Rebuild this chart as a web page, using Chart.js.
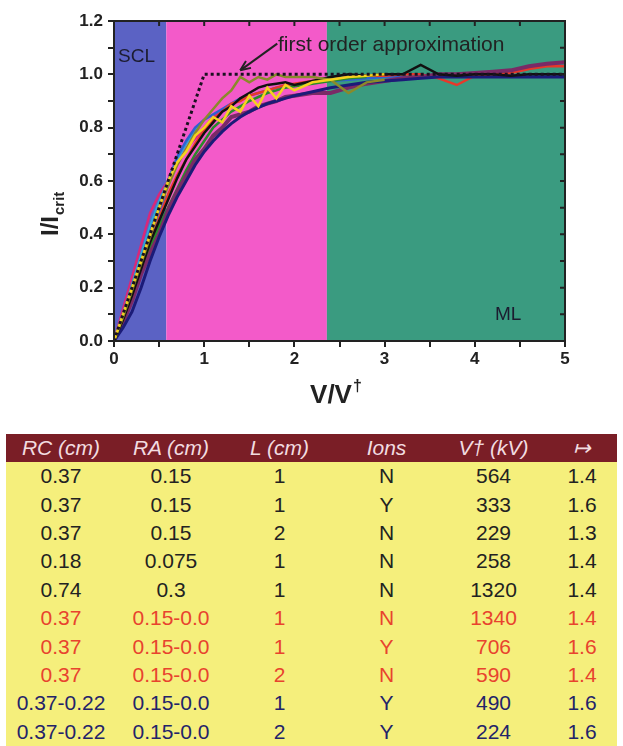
<!DOCTYPE html>
<html>
<head>
<meta charset="utf-8">
<script src="https://cdn.jsdelivr.net/npm/chart.js@4.4.0/dist/chart.umd.min.js"></script>
<style>
  body { margin: 0; background: #fff; font-family: "Liberation Sans", Arial, sans-serif; }
  #wrap { position: relative; width: 623px; height: 746px; overflow: hidden; }
  #c { position: absolute; left: 0; top: 0; }
  #tbl { position: absolute; left: 6px; top: 434px; width: 611px; border-collapse: collapse; table-layout: fixed; }
  #tbl th { background: #7a1e26; color: #f2dce0; font-style: italic; font-weight: normal; font-size: 21px; height: 28px; padding: 0; text-align: center; }
  #tbl td { background: #f5ef7c; font-size: 21px; height: 28.4px; padding: 0; text-align: center; line-height: 28px; }
</style>
</head>
<body>
<div id="wrap">
  <canvas id="c" width="623" height="425"></canvas>
  <table id="tbl"><thead><tr id="hdr"></tr></thead><tbody id="rows"></tbody></table>
</div>
<script>
// V/V† sample points shared by the curves
var xs = [0,0.1,0.2,0.3,0.4,0.5,0.6,0.7,0.8,0.9,1.0,1.1,1.2,1.3,1.4,1.5,1.6,1.7,1.8,1.9,2.0,
          2.2,2.4,2.6,2.8,3.0,3.2,3.4,3.6,3.8,4.0,4.2,4.4,4.6,4.8,5.0];

var navy   = [0,0.05,0.11,0.2,0.3,0.39,0.47,0.54,0.6,0.66,0.71,0.75,0.785,0.815,0.84,0.86,0.875,0.89,0.9,0.91,0.92,
              0.935,0.95,0.96,0.97,0.975,0.98,0.985,0.99,0.99,0.99,0.99,0.99,0.99,0.99,0.99];
var purple = [0,0.07,0.15,0.25,0.33,0.4,0.49,0.56,0.62,0.68,0.72,0.77,0.8,0.84,0.85,0.86,0.88,0.89,0.9,0.915,0.92,
              0.93,0.93,0.95,0.965,0.975,0.985,0.99,1.0,1.0,1.005,1.01,1.015,1.03,1.04,1.045];
var black  = [0,0.08,0.17,0.27,0.37,0.45,0.53,0.61,0.68,0.73,0.78,0.82,0.86,0.88,0.91,0.93,0.95,0.96,0.965,0.97,0.96,
              0.975,0.99,1.0,0.995,1.0,1.0,1.035,1.0,0.995,1.0,1.0,0.995,1.0,1.0,1.0];
var yellow = [0,0.1,0.2,0.3,0.4,0.5,0.6,0.67,0.71,0.77,0.8,0.84,0.82,0.88,0.86,0.92,0.88,0.95,0.91,0.96,0.94,
              0.97,0.98,0.99,0.995,1.0,null,null,null,null,null,null,null,null,null,null];
var olive  = [0,0.09,0.19,0.29,0.39,0.5,0.58,0.66,0.72,0.78,0.83,0.87,0.91,0.94,0.99,0.97,0.99,0.98,1.0,0.99,0.99,
              0.99,0.98,0.93,0.97,0.98,null,null,null,null,null,null,null,null,null,null];
var green  = [0,0.08,0.17,0.26,0.35,0.43,0.5,0.57,0.64,0.7,0.75,0.8,0.83,0.86,0.88,0.9,0.915,0.93,0.94,0.95,0.955,
              0.965,0.975,0.985,0.99,null,null,null,null,null,null,null,null,null,null,null];
var red    = [0,0.09,0.19,0.28,0.37,0.46,0.55,0.62,0.68,0.74,0.79,0.83,0.86,0.89,0.9,0.92,0.93,0.94,0.95,0.96,0.965,
              0.975,0.98,0.99,0.995,0.995,1.0,1.0,0.985,0.96,0.995,1.0,1.005,1.02,1.03,1.03];
var blue   = [0,0.1,0.2,0.3,0.41,0.5,0.6,0.69,0.75,0.8,0.83,0.85,0.87,0.89,0.91,0.92,0.93,0.94,0.95,0.955,0.96,
              0.97,0.975,0.98,0.985,0.99,0.99,0.99,0.99,0.995,0.995,0.995,0.995,0.995,0.995,0.995];
var pink   = [0,0.12,0.24,0.36,0.48,0.55,0.6,0.66,0.72,0.76,0.8,0.84,0.86,null,null,null,null,null,null,null,null,
              null,null,null,null,null,null,null,null,null,null,null,null,null,null,null];
var cyan   = [0,0.1,0.21,0.32,0.43,0.52,0.6,0.68,0.74,0.79,0.83,null,null,null,null,null,null,null,null,null,null,
              null,null,null,null,null,null,null,null,null,null,null,null,null,null,null];

// first order approximation
var approxX = [0, 1, 5];
var approxY = [0, 1, 1];

// regimes
var regionEdges  = [0, 0.58, 2.36, 5];
var regionColors = ['#5b62c4', '#f35ac9', '#3a9b80'];

// table
var headers = ['RC (cm)', 'RA (cm)', 'L (cm)', 'Ions', 'V\u2020 (kV)', '\u21a6'];
var colRC   = ['0.37','0.37','0.37','0.18','0.74','0.37','0.37','0.37','0.37-0.22','0.37-0.22'];
var colRA   = ['0.15','0.15','0.15','0.075','0.3','0.15-0.0','0.15-0.0','0.15-0.0','0.15-0.0','0.15-0.0'];
var colL    = ['1','1','2','1','1','1','1','2','1','2'];
var colIons = ['N','Y','N','N','N','N','Y','N','Y','Y'];
var colV    = ['564','333','229','258','1320','1340','706','590','490','224'];
var colExp  = ['1.4','1.6','1.3','1.4','1.4','1.4','1.6','1.4','1.6','1.6'];
var rowColors = ['#222','#222','#222','#222','#222','#e8432e','#e8432e','#e8432e','#23236a','#23236a'];

function pts(ys) {
  var out = [];
  for (var i = 0; i < xs.length; i++) out.push({x: xs[i], y: ys[i]});
  return out;
}
function line(ys, color, w, ord) {
  return {data: pts(ys), borderColor: color, borderWidth: w, pointRadius: 0, tension: 0, spanGaps: false, order: ord};
}

var FONT = '"Liberation Sans", Arial, sans-serif';

var decor = {
  id: 'decor',
  beforeDraw: function(chart) {
    var ctx = chart.ctx, a = chart.chartArea, sx = chart.scales.x;
    for (var i = 0; i < regionColors.length; i++) {
      var x0 = sx.getPixelForValue(regionEdges[i]), x1 = sx.getPixelForValue(regionEdges[i + 1]);
      ctx.fillStyle = regionColors[i];
      ctx.fillRect(x0, a.top, x1 - x0, a.bottom - a.top);
    }
  },
  afterDatasetsDraw: function(chart) {
    var ctx = chart.ctx, sx = chart.scales.x, sy = chart.scales.y;
    ctx.save();
    ctx.fillStyle = '#1c1c30';
    ctx.font = '19px ' + FONT;
    ctx.textBaseline = 'middle';
    ctx.fillText('SCL', 118, 57);
    ctx.fillText('ML', 495, 315);
    ctx.fillStyle = '#222';
    ctx.font = '21px ' + FONT;
    ctx.fillText('first order approximation', 278, 45);
    // arrow
    var tx = sx.getPixelForValue(1.81), ty = sy.getPixelForValue(1.115);
    var hx = sx.getPixelForValue(1.40), hy = sy.getPixelForValue(1.015);
    ctx.strokeStyle = '#222'; ctx.lineWidth = 2;
    ctx.beginPath(); ctx.moveTo(tx, ty); ctx.lineTo(hx, hy); ctx.stroke();
    var ang = Math.atan2(hy - ty, hx - tx);
    ctx.beginPath();
    ctx.moveTo(hx, hy);
    ctx.lineTo(hx - 11 * Math.cos(ang - 0.4), hy - 11 * Math.sin(ang - 0.4));
    ctx.moveTo(hx, hy);
    ctx.lineTo(hx - 11 * Math.cos(ang + 0.4), hy - 11 * Math.sin(ang + 0.4));
    ctx.stroke();
    ctx.restore();
  },
  afterDraw: function(chart) {
    var ctx = chart.ctx, a = chart.chartArea, sx = chart.scales.x, sy = chart.scales.y;
    ctx.save();
    ctx.strokeStyle = '#222'; ctx.lineWidth = 2;
    ctx.strokeRect(a.left, a.top, a.right - a.left, a.bottom - a.top);
    // inward ticks on top and right
    ctx.beginPath();
    sx.ticks.forEach(function(t) {
      var p = sx.getPixelForValue(t.value);
      ctx.moveTo(p, a.top); ctx.lineTo(p, a.top + 5);
    });
    sy.ticks.forEach(function(t) {
      var p = sy.getPixelForValue(t.value);
      ctx.moveTo(a.right, p); ctx.lineTo(a.right - 5, p);
    });
    ctx.stroke();
    // axis titles
    ctx.fillStyle = '#222';
    ctx.textBaseline = 'alphabetic';
    ctx.font = 'bold 26px ' + FONT;
    var t = 'V/V', w = ctx.measureText(t).width;
    var cx = 335, by = 403;
    ctx.fillText(t, cx - w / 2 - 4, by);
    ctx.font = 'bold 16px ' + FONT;
    ctx.fillText('\u2020', cx + w / 2 - 3, by - 12);
    ctx.translate(58, 236);
    ctx.rotate(-Math.PI / 2);
    ctx.font = 'bold 24px ' + FONT;
    ctx.fillText('I/I', 0, 0);
    var w2 = ctx.measureText('I/I').width;
    ctx.font = 'bold 15px ' + FONT;
    ctx.fillText('crit', w2 + 1, 6);
    ctx.restore();
  }
};

var tickFont = {family: FONT, size: 17, weight: 'bold'};

new Chart(document.getElementById('c'), {
  type: 'line',
  data: {
    datasets: [
      {data: approxX.map(function(x, i) { return {x: x, y: approxY[i]}; }), borderColor: '#1a1020',
       borderWidth: 3, borderDash: [3, 3], pointRadius: 0, tension: 0, order: 0},
      line(pink, '#d8287a', 2.5, 10),
      line(cyan, '#2aa8d8', 2.5, 9),
      line(navy, '#1b1b78', 3, 3),
      line(purple, '#7a2a66', 4, 4),
      line(green, '#2a8a2a', 2.5, 5),
      line(red, '#e8382a', 2.5, 6),
      line(blue, '#3060d0', 2.5, 7),
      line(black, '#111111', 2.5, 2),
      line(olive, '#8a8a2a', 2.5, 1.5),
      line(yellow, '#f4d21e', 2.5, 1)
    ]
  },
  plugins: [decor],
  options: {
    responsive: false,
    animation: false,
    devicePixelRatio: 1,
    layout: {padding: {top: 21, right: 58, left: 0, bottom: 0}},
    plugins: {legend: {display: false}, tooltip: {enabled: false}},
    scales: {
      x: {
        type: 'linear', min: 0, max: 5,
        ticks: {stepSize: 0.5, autoSkip: false, maxRotation: 0, color: '#222', font: tickFont, padding: 2,
          callback: function(v) { return Number.isInteger(v) ? String(v) : ''; }},
        grid: {drawOnChartArea: false, drawTicks: true, tickLength: 6, color: '#222', lineWidth: 2},
        border: {display: true, color: '#222', width: 2},
        afterFit: function(s) { s.height = 84; }
      },
      y: {
        type: 'linear', min: 0, max: 1.2,
        ticks: {stepSize: 0.1, autoSkip: false, color: '#222', font: tickFont, padding: 5,
          callback: function(v) { return Math.round(v * 10) % 2 === 0 ? v.toFixed(1) : ''; }},
        grid: {drawOnChartArea: false, drawTicks: true, tickLength: 6, color: '#222', lineWidth: 2},
        border: {display: true, color: '#222', width: 2},
        afterFit: function(s) { s.width = 114; }
      }
    }
  }
});

// build the table from the column arrays
var hdr = document.getElementById('hdr');
var widths = [110, 110, 107, 107, 107, 70];
headers.forEach(function(h, i) {
  var th = document.createElement('th');
  th.textContent = h;
  th.style.width = widths[i] + 'px';
  hdr.appendChild(th);
});
var body = document.getElementById('rows');
var cols = [colRC, colRA, colL, colIons, colV, colExp];
for (var r = 0; r < colRC.length; r++) {
  var tr = document.createElement('tr');
  for (var c = 0; c < cols.length; c++) {
    var td = document.createElement('td');
    td.textContent = cols[c][r];
    td.style.color = rowColors[r];
    tr.appendChild(td);
  }
  body.appendChild(tr);
}
</script>
</body>
</html>
